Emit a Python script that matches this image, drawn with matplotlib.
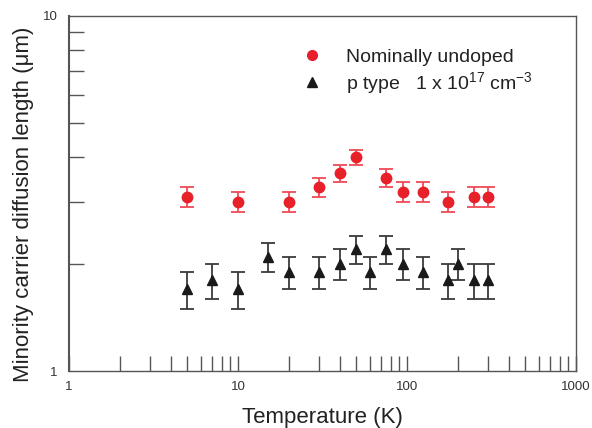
import matplotlib.pyplot as plt
from matplotlib.lines import Line2D
from matplotlib.ticker import LogLocator, NullFormatter, FixedLocator

plt.rcParams['font.family'] = ['Liberation Sans', 'DejaVu Sans']
plt.rcParams['mathtext.fontset'] = 'custom'
plt.rcParams['mathtext.rm'] = 'Liberation Sans'
plt.rcParams['mathtext.it'] = 'Liberation Sans'

# nominally undoped
t_undoped = [5, 10, 20, 30, 40, 50, 75, 95, 125, 175, 250, 300]
l_undoped = [3.1, 3.0, 3.0, 3.3, 3.6, 4.0, 3.5, 3.2, 3.2, 3.0, 3.1, 3.1]
err_undoped = [0.2] * len(t_undoped)

# p type 1e17
t_ptype = [5, 7, 10, 15, 20, 30, 40, 50, 60, 75, 95, 125, 175, 200, 250, 300]
l_ptype = [1.7, 1.8, 1.7, 2.1, 1.9, 1.9, 2.0, 2.2, 1.9, 2.2, 2.0, 1.9, 1.8, 2.0, 1.8, 1.8]
err_ptype = [0.2] * len(t_ptype)

red = '#e8202a'
black = '#1a1a1a'

fig = plt.figure(figsize=(5.92, 4.28), dpi=100)
ax = fig.add_axes([0.1166, 0.133, 0.8564, 0.830])

ax.errorbar(t_undoped, l_undoped, yerr=err_undoped, fmt='o', color=red,
            ecolor='#f04a55', elinewidth=1.3, capsize=5, capthick=1.3,
            markersize=7.5)
ax.errorbar(t_ptype, l_ptype, yerr=err_ptype, fmt='^', color=black,
            ecolor='#3a3a3a', elinewidth=1.3, capsize=5, capthick=1.3,
            markersize=7.5)

ax.set_xscale('log')
ax.set_yscale('log')
ax.set_xlim(1, 1000)
ax.set_ylim(1, 10)

ax.xaxis.set_major_locator(FixedLocator([1, 10, 100, 1000]))
ax.set_xticklabels(['1', '10', '100', '1000'])
ax.xaxis.set_minor_locator(LogLocator(base=10, subs=range(2, 10)))
ax.xaxis.set_minor_formatter(NullFormatter())
ax.yaxis.set_major_locator(FixedLocator([1, 10]))
ax.set_yticklabels(['1', '10'])
ax.yaxis.set_minor_locator(LogLocator(base=10, subs=range(2, 10)))
ax.yaxis.set_minor_formatter(NullFormatter())

ax.tick_params(which='both', direction='in', length=11, width=1, color='#555555',
               labelsize=9.5, labelcolor='#333333', top=False, right=False)
ax.tick_params(axis='x', which='major', pad=7)
ax.tick_params(axis='y', which='major', length=0, pad=8)

for s in ax.spines.values():
    s.set_color('#555555')
    s.set_linewidth(1.0)
ax.spines['left'].set_linewidth(1.5)

ax.set_xlabel('Temperature (K)', fontsize=16, labelpad=10, color='#222222')
ax.set_ylabel('Minority carrier diffusion length (\u03bcm)', fontsize=16,
              color='#222222')
ax.yaxis.set_label_coords(-0.07, 0.47)

handles = [
    Line2D([], [], ls='none', marker='o', color=red, markersize=7),
    Line2D([], [], ls='none', marker='^', color=black, markersize=7),
]
labels = ['Nominally undoped', r'p type   1 x 10$^{\mathregular{17}}$ cm$^{\mathregular{-3}}$']
ax.legend(handles, labels, loc='upper left', bbox_to_anchor=(0.445, 0.93),
          frameon=False, fontsize=14, handlelength=1.0, handletextpad=1.25,
          labelspacing=0.2, borderaxespad=0, labelcolor='#222222')

fig.savefig('out.png', dpi=100)
